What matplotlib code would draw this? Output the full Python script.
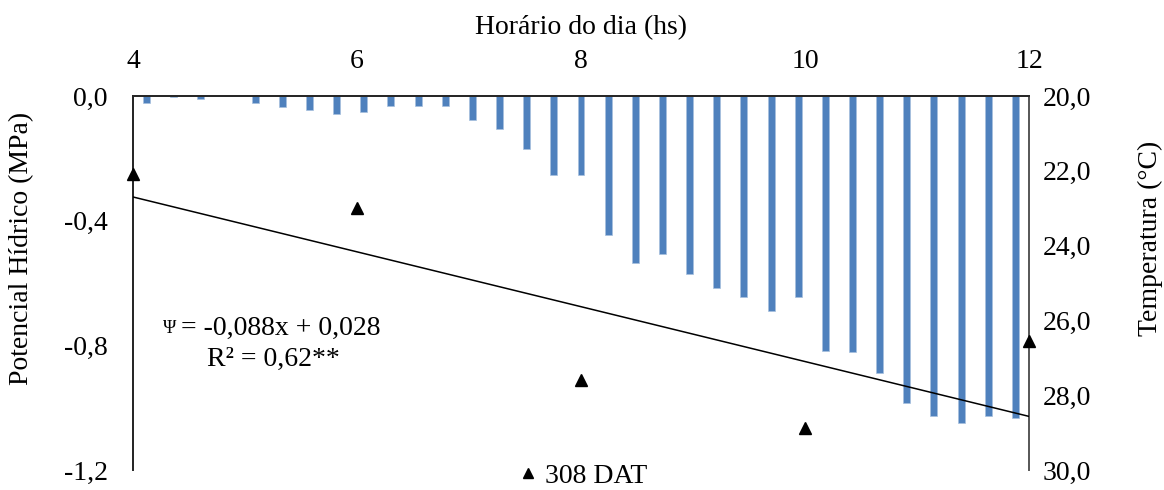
import numpy as np
from matplotlib import pyplot as plt
from matplotlib.lines import Line2D

plt.rcParams['font.family'] = ['Liberation Serif', 'DejaVu Serif']

# temperature bars, every 15 min from 4:00 to 12:00 (33 categories)
temps = [20.2, 20.02, 20.09, 20.0, 20.2, 20.29, 20.37, 20.47, 20.44, 20.26,
         20.26, 20.26, 20.64, 20.88, 21.41, 22.1, 22.1, 23.71, 24.47, 24.22,
         24.75, 25.14, 25.38, 25.76, 25.38, 26.81, 26.84, 27.40, 28.20, 28.56,
         28.75, 28.56, 28.62]

# water potential at 308 DAT
hours = [4, 6, 8, 10, 12]
psi = [-0.25, -0.36, -0.91, -1.065, -0.785]

# trendline coefficients
slope, intercept = -0.088, 0.028

x_ticks = [4, 6, 8, 10, 12]
psi_ticks = [0.0, -0.4, -0.8, -1.2]
psi_labels = ["0,0", "-0,4", "-0,8", "-1,2"]
temp_ticks = [20, 22, 24, 26, 28, 30]
temp_labels = ["20,0", "22,0", "24,0", "26,0", "28,0", "30,0"]

FS = 20

fig = plt.figure(figsize=(11.64, 4.9), dpi=100)
ax = fig.add_axes([133/1164, 1-470/490, (1029-133)/1164, (470-96)/490])
ax2 = ax.twinx()

# bars on the temperature axis, spread over the hour range as categories
n = len(temps)
bar_x = 4 + (np.arange(n) + 0.5) * 8 / n
ax2.bar(bar_x, np.array(temps) - 20, bottom=20, width=0.062, color='#4F81BD',
        edgecolor='#A7C0DE', linewidth=0.5)
ax2.set_ylim(30, 20)
ax2.set_yticks(temp_ticks)
ax2.set_yticklabels(temp_labels, fontsize=FS)
ax2.tick_params(axis='y', length=0, pad=10)

# potential axis on top of the bars
ax.set_zorder(2)
ax.patch.set_visible(False)
xs = np.array([4, 12])
ax.plot(xs, slope * xs + intercept, color='black', lw=1.1, zorder=3)
ax.plot(hours, psi, linestyle='none', marker='^', color='black', markersize=8,
        clip_on=False, zorder=4)
ax.set_xlim(4, 12)
ax.set_ylim(-1.2, 0)
ax.set_yticks(psi_ticks)
ax.set_yticklabels(psi_labels, fontsize=FS)
ax.xaxis.tick_top()
ax.set_xticks(x_ticks)
ax.set_xticklabels([str(h) for h in x_ticks], fontsize=FS)
ax.tick_params(axis='y', length=0, pad=18)
ax.tick_params(axis='x', length=0, pad=16)

for a in (ax, ax2):
    a.spines['bottom'].set_visible(False)
    a.spines['left'].set_color('#262626')
    a.spines['top'].set_color('#262626')
    a.spines['right'].set_color('#595959')
    for s in a.spines.values():
        s.set_linewidth(1.3)

# equation
ax.text(4.27, -0.745, "Ψ", fontsize=13, va='center', ha='left')
ax.text(4.43, -0.745, "= -0,088x + 0,028", fontsize=FS, va='center', ha='left')
ax.text(4.66, -0.845, "R² = 0,62**", fontsize=FS, va='center', ha='left')

# axis titles
fig.text(581/1164, 1-28/490, "Horário do dia (hs)", fontsize=FS, ha='center', va='center')
fig.text(22/1164, 1-248/490, "Potencial Hídrico (MPa)", fontsize=FS, rotation=90,
         ha='center', va='center')
fig.text(1150/1164, 1-238/490, "Temperatura (°C)", fontsize=FS, rotation=90,
         ha='center', va='center')

handle = Line2D([], [], linestyle='none', marker='^', color='black', markersize=7)
fig.legend([handle], ["308 DAT"], loc='center', bbox_to_anchor=(582/1164, 1-476/490),
           frameon=False, fontsize=FS, handlelength=0.8, handletextpad=0.2,
           borderpad=0)

fig.savefig("out.png", dpi=100)
